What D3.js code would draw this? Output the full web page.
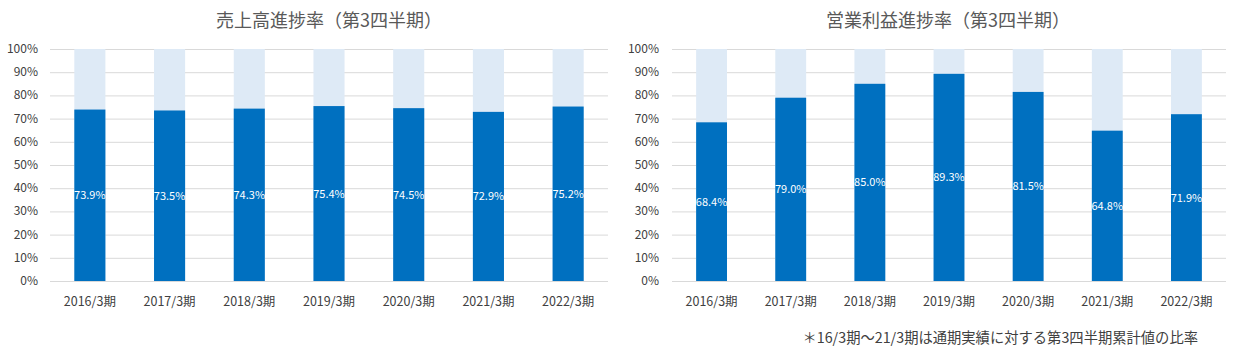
<!DOCTYPE html>
<html><head><meta charset="utf-8">
<script src="https://cdn.jsdelivr.net/npm/d3@7"></script>
<style>
body{margin:0;background:#fff;}
text{font-family:"Noto Sans CJK JP","Noto Sans",sans-serif;}
</style></head>
<body><svg id="c" width="1243" height="359"></svg>
<script>
const categories = ["2016/3期","2017/3期","2018/3期","2019/3期","2020/3期","2021/3期","2022/3期"];
const salesValues = [73.9,73.5,74.3,75.4,74.5,72.9,75.2];
const profitValues = [68.4,79.0,85.0,89.3,81.5,64.8,71.9];
const yTicks = [0,10,20,30,40,50,60,70,80,90,100];
const titles = ["売上高進捗率（第3四半期）","営業利益進捗率（第3四半期）"];
const footnote = "＊16/3期～21/3期は通期実績に対する第3四半期累計値の比率";

const svg = d3.select("#c");
function drawChart(opts){
  const {x0,x1,yLabelX,title,titleX,values} = opts;
  const y = d3.scaleLinear().domain([0,100]).range([281,49]);
  const x = d3.scaleBand().domain(categories).range([x0,x1]).paddingInner(0.61).paddingOuter(0.305);
  const g = svg.append("g");
  g.append("text").attr("x",titleX).attr("y",27).attr("text-anchor","middle")
    .attr("font-size",18).attr("fill","#595959").text(title);
  g.selectAll(".grid").data(yTicks).join("line")
    .attr("x1",x0).attr("x2",x1).attr("y1",d=>y(d)+0.5).attr("y2",d=>y(d)+0.5)
    .attr("stroke","#D9D9D9").attr("stroke-width",1);
  g.selectAll(".yl").data(yTicks).join("text")
    .attr("x",yLabelX).attr("y",d=>y(d)+4).attr("text-anchor","end")
    .attr("font-size",12).attr("fill","#404040").text(d=>d+"%");
  g.selectAll(".bg").data(categories).join("rect")
    .attr("x",d=>x(d)).attr("width",x.bandwidth()).attr("y",y(100)).attr("height",y(0)-y(100))
    .attr("fill","#DEEAF6");
  g.selectAll(".bar").data(values).join("rect")
    .attr("x",(d,i)=>x(categories[i])).attr("width",x.bandwidth())
    .attr("y",d=>y(d)).attr("height",d=>y(0)-y(d)).attr("fill","#0070C0");
  g.selectAll(".vl").data(values).join("text")
    .attr("x",(d,i)=>x(categories[i])+x.bandwidth()/2)
    .attr("y",d=>(y(d)+y(0))/2+4).attr("text-anchor","middle")
    .attr("font-size",11).attr("fill","#fff").text(d=>d.toFixed(1)+"%");
  g.selectAll(".xl").data(categories).join("text")
    .attr("x",d=>x(d)+x.bandwidth()/2).attr("y",306).attr("text-anchor","middle")
    .attr("font-size",12.5).attr("fill","#404040").text(d=>d);
  g.append("line").attr("x1",x0).attr("x2",x1).attr("y1",y(0)+0.5).attr("y2",y(0)+0.5)
    .attr("stroke","#D9D9D9");
}
drawChart({x0:50,x1:608,yLabelX:38,title:titles[0],titleX:329,values:salesValues});
drawChart({x0:672,x1:1226,yLabelX:659,title:titles[1],titleX:948,values:profitValues});
svg.append("text").attr("x",1198).attr("y",343).attr("text-anchor","end")
  .attr("font-size",14.3).attr("fill","#404040").text(footnote);
</script></body></html>
